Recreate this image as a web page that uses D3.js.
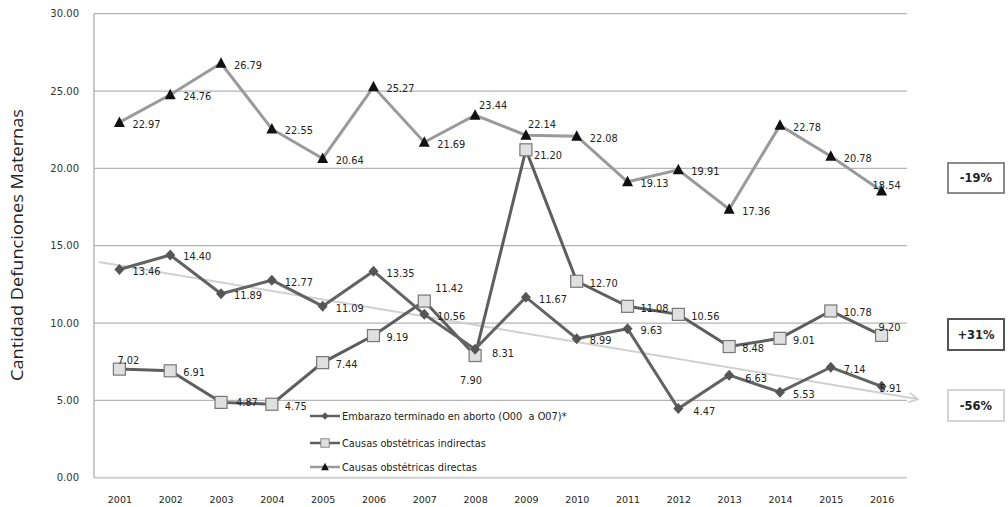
<!DOCTYPE html>
<html><head><meta charset="utf-8">
<script src="https://cdn.jsdelivr.net/npm/d3@7"></script>
<style>
body{margin:0;background:#fff;}
svg{display:block;font-family:"DejaVu Sans",sans-serif;}
</style></head><body>
<svg id="c" width="1008" height="507"></svg>
<script>
const years = [2001,2002,2003,2004,2005,2006,2007,2008,2009,2010,2011,2012,2013,2014,2015,2016];
const directas = [22.97,24.76,26.79,22.55,20.64,25.27,21.69,23.44,22.14,22.08,19.13,19.91,17.36,22.78,20.78,18.54];
const indirectas = [7.02,6.91,4.87,4.75,7.44,9.19,11.42,7.90,21.20,12.70,11.08,10.56,8.48,9.01,10.78,9.20];
const aborto = [13.46,14.40,11.89,12.77,11.09,13.35,10.56,8.31,11.67,8.99,9.63,4.47,6.63,5.53,7.14,5.91];
const yTicks = [0,5,10,15,20,25,30];
const seriesNames = ["Embarazo terminado en aborto (O00  a O07)*","Causas obstétricas indirectas","Causas obstétricas directas"];
const trendYears = [2000.6, 2016.7];
const trendValues = [13.94, 5.09];
const changeLabels = ["-19%","+31%","-56%"];
const yTitle = "Cantidad Defunciones Maternas";

const svg = d3.select("#c");
const x = d3.scalePoint().domain(years).range([94,907]).padding(0.5);
const xl = d3.scaleLinear().domain([2001,2016]).range([x(2001),x(2016)]);
const y = d3.scaleLinear().domain([0,30]).range([477.7,13.7]);

// gridlines
svg.append("g").selectAll("line").data(yTicks.filter(t=>t>0)).join("line")
  .attr("x1",94).attr("x2",907).attr("y1",d=>y(d)).attr("y2",d=>y(d))
  .attr("stroke","#b4b4b4").attr("stroke-width",1.3);
svg.append("line").attr("x1",94).attr("x2",907).attr("y1",y(0)).attr("y2",y(0))
  .attr("stroke","#cfcfcf").attr("stroke-width",2);
svg.append("line").attr("x1",94).attr("x2",94).attr("y1",y(30)).attr("y2",y(0))
  .attr("stroke","#a8a8a8").attr("stroke-width",1.2);

// y axis labels
const yAxis = d3.axisLeft(y).tickValues(yTicks).tickFormat(d3.format(".2f")).tickSize(0).tickPadding(15);
const gy = svg.append("g").attr("transform","translate(94,0)").call(yAxis);
gy.select(".domain").remove();
gy.selectAll("text").attr("font-size",10).attr("fill","#333").attr("font-family","DejaVu Sans,sans-serif");

// x axis labels
const xAxis = d3.axisBottom(x).tickSize(0).tickPadding(19);
const gx = svg.append("g").attr("transform",`translate(0,${y(0)})`).call(xAxis);
gx.select(".domain").remove();
gx.selectAll("text").attr("font-size",9.5).attr("fill","#222").attr("font-family","DejaVu Sans,sans-serif");

// y title
svg.append("text").attr("transform","translate(17,245) rotate(-90)")
  .attr("text-anchor","middle").attr("dominant-baseline","central")
  .attr("font-family","'Open Sans',sans-serif").attr("font-size",15.5)
  .attr("textLength",272).attr("lengthAdjust","spacingAndGlyphs")
  .attr("fill","#222").text(yTitle);

// trend arrow
const defs = svg.append("defs");
defs.append("marker").attr("id","arr").attr("viewBox","0 0 10 10").attr("refX",8).attr("refY",5)
  .attr("markerWidth",6).attr("markerHeight",6).attr("orient","auto")
  .append("path").attr("d","M1,1 L9,5 L1,9").attr("fill","none").attr("stroke","#d0d0d0").attr("stroke-width",1.5);
svg.append("line").attr("x1",xl(trendYears[0])).attr("y1",y(trendValues[0]))
  .attr("x2",xl(trendYears[1])).attr("y2",y(trendValues[1]))
  .attr("stroke","#d0d0d0").attr("stroke-width",2).attr("marker-end","url(#arr)");

const line = d3.line().x((d,i)=>x(years[i])).y(d=>y(d));

// series
const series = [
  {vals:directas, color:"#9a9a9a", key:"d"},
  {vals:indirectas, color:"#5e5e5e", key:"i"},
  {vals:aborto, color:"#636363", key:"a"}
];
series.forEach(s=>{
  svg.append("path").datum(s.vals).attr("d",line).attr("fill","none")
    .attr("stroke",s.color).attr("stroke-width",3).attr("stroke-linejoin","miter");
});

function drawMarker(g,key,cx,cy){
  if(key==="d"){
    g.append("path").attr("d",`M${cx},${cy-6} L${cx+5.5},${cy+4.5} L${cx-5.5},${cy+4.5} Z`).attr("fill","#111");
  } else if(key==="i"){
    g.append("rect").attr("x",cx-6).attr("y",cy-6).attr("width",12).attr("height",12)
      .attr("fill","#e0e0e0").attr("stroke","#777").attr("stroke-width",1.2);
  } else {
    g.append("path").attr("d",`M${cx},${cy-5.5} L${cx+5},${cy} L${cx},${cy+5.5} L${cx-5},${cy} Z`).attr("fill","#555");
  }
}
const mg = svg.append("g");
series.forEach(s=>{
  s.vals.forEach((v,i)=>drawMarker(mg,s.key,x(years[i]),y(v)));
});

// labels: default to right of marker, some overrides [dx, dy(center)]
const labelOffset = {
  "d2008":[4,-10],"d2009":[2,-11],"d2016":[-9,-5],
  "i2001":[-2,-9],"i2008":[-15,25],"i2009":[8,6],"i2007":[11,-13],"i2016":[-3,-8],"i2003":[15,0],
  "a2016":[-2,2],"a2013":[16,3],"a2012":[15,3],"a2008":[17,4]
};
const lg = svg.append("g").attr("font-size",9.8).attr("fill","#222");
series.forEach(s=>{
  s.vals.forEach((v,i)=>{
    const off = labelOffset[s.key+years[i]] || [13,2];
    lg.append("text").attr("x",x(years[i])+off[0]).attr("y",y(v)+off[1])
      .attr("dominant-baseline","central").text(d3.format(".2f")(v));
  });
});

// legend
const leg = svg.append("g");
const legY = [416,443,467];
const legKeys = ["a","i","d"];
const legColors = ["#636363","#5e5e5e","#9a9a9a"];
legKeys.forEach((k,i)=>{
  leg.append("line").attr("x1",310).attr("x2",340).attr("y1",legY[i]).attr("y2",legY[i])
    .attr("stroke",legColors[i]).attr("stroke-width",2.5);
  const gm = leg.append("g").attr("transform",`translate(325,${legY[i]}) scale(0.7) translate(-325,${-legY[i]})`);
  drawMarker(gm,k,325,legY[i]);
  leg.append("text").attr("x",342).attr("y",legY[i]).attr("dominant-baseline","central")
    .attr("font-size",9.8).attr("fill","#222").style("white-space","pre").text(seriesNames[i]);
});

// change boxes
const boxes = [
  {y:163,h:30,stroke:"#8a8a8a"},
  {y:319,h:31,stroke:"#555"},
  {y:390,h:31,stroke:"#d4d4d4"}
];
boxes.forEach((b,i)=>{
  svg.append("rect").attr("x",948).attr("y",b.y).attr("width",56).attr("height",b.h)
    .attr("fill","#fff").attr("stroke",b.stroke).attr("stroke-width",2);
  svg.append("text").attr("x",976).attr("y",b.y+b.h/2).attr("text-anchor","middle")
    .attr("dominant-baseline","central").attr("font-size",11.5).attr("font-weight","bold")
    .attr("fill","#222").text(changeLabels[i]);
});
</script>
</body></html>
